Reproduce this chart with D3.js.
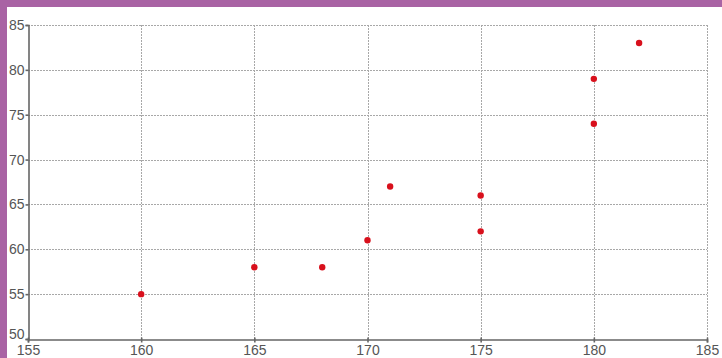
<!DOCTYPE html>
<html><head><meta charset="utf-8">
<script src="https://cdn.jsdelivr.net/npm/d3@7/dist/d3.min.js"></script>
<style>html,body{margin:0;padding:0;background:#a963a4;}svg{display:block;}</style>
</head><body>
<script>
const heights = [160, 165, 168, 170, 171, 175, 175, 180, 180, 182];
const weights = [55, 58, 58, 61, 67, 66, 62, 79, 74, 83];
const xTicks = [155, 160, 165, 170, 175, 180, 185];
const yTicks = [50, 55, 60, 65, 70, 75, 80, 85];

const W = 722, H = 358;
const svg = d3.select("body").append("svg").attr("width", W).attr("height", H);
svg.append("rect").attr("width", W).attr("height", H).attr("fill", "#a963a4");
svg.append("rect").attr("x", 7).attr("y", 7).attr("width", W - 7).attr("height", H - 7).attr("fill", "#ffffff");

const x = d3.scaleLinear().domain([155, 185]).range([28, 707]);
const y = d3.scaleLinear().domain([50, 85]).range([339, 25]);

const grid = svg.append("g").attr("stroke", "#a8a8a8").attr("stroke-width", 1).attr("stroke-dasharray", "2,1");
grid.selectAll(".gx").data(xTicks.slice(1)).join("line")
  .attr("x1", d => Math.round(x(d)) + 0.5).attr("x2", d => Math.round(x(d)) + 0.5)
  .attr("y1", y(85)).attr("y2", y(50));
grid.selectAll(".gy").data(yTicks.slice(1)).join("line")
  .attr("y1", d => Math.round(y(d)) + 0.5).attr("y2", d => Math.round(y(d)) + 0.5)
  .attr("x1", x(155)).attr("x2", x(185));

const xAxis = svg.append("g").attr("transform", "translate(0,339.5)")
  .call(d3.axisBottom(x).tickValues(xTicks).tickSize(3).tickPadding(3));
const yAxis = svg.append("g").attr("transform", "translate(28.5,0)")
  .call(d3.axisLeft(y).tickValues(yTicks).tickSize(3).tickPadding(1));
[xAxis, yAxis].forEach(a => {
  a.select(".domain").attr("stroke", "#666").attr("stroke-width", 1.6);
  a.selectAll(".tick line").attr("stroke", "#666").attr("stroke-width", 1.6);
  a.selectAll("text").attr("fill", "#555").attr("font-family", "Liberation Sans, Arial, sans-serif").attr("font-size", 14);
});
yAxis.selectAll(".tick line").attr("x1", 0).attr("x2", -3);
xAxis.selectAll(".tick line").attr("y1", -2).attr("y2", 3);
yAxis.selectAll(".tick").filter(d => d === 50).select("text").attr("dy", "-0.05em");

svg.append("g").selectAll("circle").data(heights.map((h, i) => [h, weights[i]])).join("circle")
  .attr("cx", d => x(d[0])).attr("cy", d => y(d[1])).attr("r", 3.2).attr("fill", "#d8101c");
</script>
</body></html>
